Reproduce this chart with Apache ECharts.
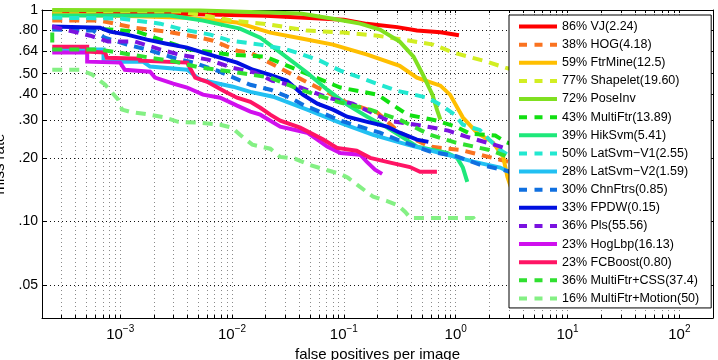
<!DOCTYPE html>
<html><head><meta charset="utf-8">
<script src="https://cdn.jsdelivr.net/npm/echarts@6/dist/echarts.min.js"></script>
<style>html,body{margin:0;padding:0;background:#fff}#c{width:718px;height:360px}</style>
</head><body><div id="c"></div>
<script>
// ---- data: [false positives per image, miss rate] ----
const vj = [[2.47e-4,0.965],[0.003,0.96],[0.02,0.94],[0.1,0.90],[0.16,0.86],[0.3,0.83],[0.45,0.80],[0.73,0.785],[1.07,0.76]];
const hog = [[2.47e-4,0.891],[6.6e-4,0.891],[1.31e-3,0.826],[2.63e-3,0.79],[5.2e-3,0.74],[6.8e-3,0.716],[0.0111,0.642],[0.0146,0.629],[0.039,0.479],[0.107,0.365],[0.2,0.327],[0.316,0.263],[0.59,0.226],[1.1,0.218],[1.42,0.211],[2.5,0.196],[3.8,0.186]];
const ftrMine = [[2.47e-4,0.951],[1e-3,0.94],[3.97e-3,0.92],[0.0111,0.872],[0.022,0.782],[0.043,0.732],[0.08,0.686],[0.162,0.615],[0.316,0.545],[0.45,0.479],[0.73,0.439],[0.89,0.398],[1.16,0.31],[1.55,0.263],[2.16,0.236],[2.66,0.202],[2.9,0.163],[3.4,0.127]];
const shapelet = [[2.47e-4,0.993],[3.4e-3,0.983],[6.4e-3,0.931],[0.0102,0.891],[0.022,0.853],[0.047,0.799],[0.099,0.782],[0.2,0.756],[0.39,0.716],[0.63,0.686],[0.95,0.629],[1.77,0.576],[2.78,0.534],[3.8,0.51]];
const poseInv = [[2.47e-4,0.999],[5.2e-3,0.995],[0.041,0.962],[0.08,0.91],[0.14,0.862],[0.21,0.808],[0.316,0.709],[0.42,0.602],[0.51,0.494],[0.62,0.398],[0.68,0.338],[0.73,0.303]];
const multiFtr = [[2.47e-4,0.825],[8.1e-4,0.808],[1.42e-3,0.79],[4.2e-3,0.65],[9.7e-3,0.615],[0.0198,0.602],[0.038,0.522],[0.093,0.43],[0.2,0.398],[0.37,0.32],[0.68,0.30],[1.0,0.281],[1.35,0.26],[2.26,0.255],[2.8,0.238],[3.9,0.223]];
const hikSvm = [[2.47e-4,0.941],[2.8e-3,0.941],[5.5e-3,0.891],[0.0118,0.817],[0.0179,0.74],[0.0287,0.615],[0.047,0.505],[0.071,0.42],[0.107,0.357],[0.162,0.313],[0.244,0.278],[0.454,0.226],[0.84,0.211],[1.03,0.20],[1.16,0.18],[1.27,0.154]];
const latSvmV1 = [[2.47e-4,0.92],[1e-3,0.911],[2.28e-3,0.862],[3.66e-3,0.808],[6.4e-3,0.765],[9.6e-3,0.716],[0.0179,0.686],[0.031,0.65],[0.043,0.615],[0.061,0.576],[0.093,0.517],[0.14,0.479],[0.21,0.443],[0.30,0.415],[0.56,0.385],[0.73,0.357],[0.98,0.32],[1.16,0.287],[1.64,0.271],[2.0,0.244],[2.5,0.218],[3.4,0.196]];
const latSvmV2 = [[2.47e-4,0.65],[7.1e-4,0.65],[7.1e-4,0.57],[1.6e-3,0.57],[1.85e-3,0.54],[3.97e-3,0.522],[5.2e-3,0.468],[0.0102,0.434],[0.0146,0.41],[0.0233,0.389],[0.047,0.338],[0.093,0.293],[0.183,0.257],[0.37,0.231],[0.73,0.211],[1.44,0.192],[2.5,0.18],[3.4,0.166]];
const chnFtrs = [[2.47e-4,0.808],[5.7e-4,0.799],[7.3e-4,0.74],[1.15e-3,0.686],[1.74e-3,0.65],[2.98e-3,0.595],[4.5e-3,0.564],[7.4e-3,0.517],[0.0146,0.443],[0.022,0.42],[0.0332,0.385],[0.043,0.357],[0.093,0.30],[0.14,0.281],[0.21,0.263],[0.30,0.244],[0.59,0.214],[1.0,0.204],[1.64,0.186],[3.1,0.172]];
const fpdw = [[2.47e-4,0.835],[6.6e-4,0.825],[8.1e-4,0.79],[1.15e-3,0.765],[1.74e-3,0.724],[2.6e-3,0.693],[3.97e-3,0.664],[5.5e-3,0.629],[7.8e-3,0.595],[0.0111,0.564],[0.0154,0.522],[0.022,0.494],[0.031,0.463],[0.043,0.398],[0.058,0.361],[0.08,0.338],[0.107,0.313],[0.162,0.296],[0.244,0.281],[0.316,0.263],[0.45,0.244],[0.57,0.238]];
const pls = [[2.47e-4,0.835],[5.4e-4,0.756],[7.8e-4,0.709],[1.36e-3,0.709],[2.3e-3,0.65],[3.4e-3,0.615],[6.1e-3,0.583],[0.01,0.534],[0.016,0.506],[0.023,0.463],[0.041,0.43],[0.072,0.385],[0.12,0.361],[0.25,0.30],[0.5,0.284],[0.86,0.269],[1.24,0.252],[2.4,0.228],[3.4,0.214]];
const hogLbp = [[2.47e-4,0.629],[5.07e-4,0.629],[5.07e-4,0.57],[1e-3,0.564],[1.1e-3,0.522],[1.85e-3,0.511],[2.05e-3,0.479],[2.98e-3,0.449],[3.97e-3,0.43],[5.5e-3,0.398],[7.84e-3,0.385],[0.0111,0.353],[0.0146,0.331],[0.0179,0.32],[0.027,0.281],[0.047,0.263],[0.058,0.244],[0.071,0.226],[0.093,0.211],[0.14,0.207],[0.16,0.192],[0.19,0.176],[0.22,0.168]];
const fcBoost = [[2.47e-4,0.671],[5.07e-4,0.671],[5.07e-4,0.636],[7.34e-4,0.629],[7.6e-4,0.595],[1.51e-3,0.589],[1.51e-3,0.576],[3.97e-3,0.564],[4.69e-3,0.479],[6.0e-3,0.458],[8.7e-3,0.411],[0.0111,0.385],[0.0146,0.368],[0.0179,0.345],[0.022,0.32],[0.027,0.30],[0.0407,0.278],[0.0655,0.244],[0.087,0.223],[0.13,0.216],[0.172,0.20],[0.26,0.19],[0.39,0.181],[0.48,0.172],[0.68,0.172]];
const multiFtrCss = [[2.47e-4,0.782],[2.47e-4,0.65],[6.6e-4,0.65],[1.85e-3,0.595],[3.1e-3,0.57],[5.2e-3,0.534],[0.01,0.511],[0.022,0.479],[0.041,0.42],[0.093,0.365],[0.172,0.338],[0.316,0.303],[0.59,0.257],[1.0,0.236],[2.0,0.218],[3.1,0.20]];
const multiFtrMotion = [[2.47e-4,0.522],[4.39e-4,0.522],[5.62e-4,0.495],[7.34e-4,0.443],[9.6e-4,0.377],[1.04e-3,0.338],[1.23e-3,0.33],[1.85e-3,0.32],[2.53e-3,0.31],[3.3e-3,0.296],[5.2e-3,0.293],[7.84e-3,0.287],[0.01,0.278],[0.0118,0.257],[0.0152,0.231],[0.022,0.221],[0.027,0.202],[0.0367,0.198],[0.05,0.185],[0.068,0.176],[0.093,0.168],[0.109,0.161],[0.132,0.149],[0.183,0.131],[0.244,0.125],[0.307,0.119],[0.354,0.111],[0.393,0.104],[1.44,0.104],[1.59,0.0964]];

const seriesNames = ['86% VJ(2.24)','38% HOG(4.18)','59% FtrMine(12.5)','77% Shapelet(19.60)','72% PoseInv','43% MultiFtr(13.89)','39% HikSvm(5.41)','50% LatSvm\u2212V1(2.55)','28% LatSvm\u2212V2(1.59)','30% ChnFtrs(0.85)','33% FPDW(0.15)','36% Pls(55.56)','23% HogLbp(16.13)','23% FCBoost(0.80)','36% MultiFtr+CSS(37.4)','16% MultiFtr+Motion(50)'];
const seriesValues = [vj,hog,ftrMine,shapelet,poseInv,multiFtr,hikSvm,latSvmV1,latSvmV2,chnFtrs,fpdw,pls,hogLbp,fcBoost,multiFtrCss,multiFtrMotion];

const xLabelTicks = [1e-3,1e-2,1e-1,1,10,100];
const yTickValues = [0.05,0.1,0.2,0.3,0.4,0.5,0.64,0.8,1];
const yTickLabels = ['.05','.10','.20','.30','.40','.50','.64','.80','1'];

// ---- styles ----
const colors = ['#ff0000','#fa7320','#ffbf00','#d2ee22','#80e020','#12e012','#1ee87a','#22e8d0','#22c0f2','#1070e0','#0010e0','#7a12e0','#d010ee','#ff1464','#30e030','#84f084'];
const dashed = [false,true,false,true,false,true,false,true,false,true,false,true,false,false,true,true];
const XMIN = 2e-4, XMAX = 200, YMIN = 0.035, YMAX = 1;
const FONT = 'Liberation Sans, Arial, Helvetica, sans-serif';

const xGrid = [];
for (let e = -4; e <= 2; e++) for (let k = 1; k <= 9; k++) {
  const v = +(k * Math.pow(10, e)).toPrecision(3);
  if (v > XMIN * 1.01 && v < XMAX * 0.99) xGrid.push(v);
}
const minus = '\u2212';
function xFmt(v) {
  const e = Math.round(Math.log10(v));
  return '{b|10}{s|' + (e < 0 ? minus + (-e) : e) + '}';
}
function yFmt(v) {
  let best = 0;
  for (let i = 0; i < yTickValues.length; i++) if (Math.abs(yTickValues[i] - v) < Math.abs(yTickValues[best] - v)) best = i;
  return yTickLabels[best];
}

const chart = echarts.init(document.getElementById('c'), null, {renderer: 'canvas'});
chart.setOption({
  animation: false,
  backgroundColor: '#fff',
  textStyle: {fontFamily: FONT},
  grid: {left: 42, right: 5, top: 10, bottom: 42, containLabel: false, outerBoundsMode: 'none'},
  xAxis: [{
    type: 'log', logBase: 10, min: XMIN, max: XMAX,
    name: 'false positives per image', nameLocation: 'middle', nameGap: 27,
    nameTextStyle: {fontSize: 15, color: '#000', fontFamily: FONT},
    axisLine: {show: true, lineStyle: {color: '#000', width: 1}},
    axisTick: {show: true, inside: true, length: 3, customValues: xGrid, lineStyle: {color: '#000'}},
    axisLabel: {customValues: xLabelTicks, formatter: xFmt, margin: 6, color: '#000',
      rich: {b: {fontSize: 15, fontFamily: FONT, color: '#000', lineHeight: 18, verticalAlign: 'bottom'},
             s: {fontSize: 10, fontFamily: FONT, color: '#000', lineHeight: 18, verticalAlign: 'top'}}},
    splitLine: {show: true, lineStyle: {color: '#8a8a8a', width: 1, type: [1, 3]}},
    minorTick: {show: false}
  }, {
    type: 'log', logBase: 10, min: XMIN, max: XMAX, position: 'top',
    axisLine: {show: true, lineStyle: {color: '#000', width: 1}},
    axisTick: {show: true, inside: true, length: 3, customValues: xGrid, lineStyle: {color: '#000'}},
    axisLabel: {show: false}, splitLine: {show: false}
  }],
  yAxis: [{
    type: 'log', logBase: 10, min: YMIN, max: YMAX,
    name: 'miss rate', nameLocation: 'middle', nameGap: 31, nameRotate: 90,
    nameTextStyle: {fontSize: 15, color: '#000', fontFamily: FONT},
    axisLine: {show: true, lineStyle: {color: '#000', width: 1}},
    axisTick: {show: true, inside: true, length: 5, customValues: yTickValues, lineStyle: {color: '#000'}},
    axisLabel: {customValues: yTickValues, formatter: yFmt, margin: 4, fontSize: 14, color: '#000', fontFamily: FONT},
    splitLine: {show: true, lineStyle: {color: '#111', width: 1, type: [1, 3]}}
  }, {
    type: 'log', logBase: 10, min: YMIN, max: YMAX, position: 'right',
    axisLine: {show: true, lineStyle: {color: '#000', width: 1}},
    axisTick: {show: true, inside: true, length: 5, customValues: yTickValues, lineStyle: {color: '#000'}},
    axisLabel: {show: false}, splitLine: {show: false}
  }],
  legend: {
    orient: 'vertical', left: 509, top: 15,
    backgroundColor: '#fff', borderColor: '#000', borderWidth: 1,
    padding: [5, 12, 3, 8],
    itemWidth: 38, itemHeight: 14, itemGap: 5.13,
    textStyle: {fontSize: 12.5, color: '#000', fontFamily: FONT},
    lineStyle: {width: 4},
    itemStyle: {opacity: 0, borderWidth: 0},
    data: seriesNames.map((n, i) => dashed[i]
      ? {name: n, lineStyle: {width: 4, type: [8, 7.5]}}
      : {name: n})
  },
  series: seriesValues.map((d, i) => ({
    name: seriesNames[i], type: 'line', data: d, xAxisIndex: 0, yAxisIndex: 0,
    showSymbol: false, symbol: 'none', clip: true,
    lineStyle: {color: colors[i], width: 4, type: dashed[i] ? [10, 7] : 'solid', cap: 'butt', join: 'miter'},
    itemStyle: {color: colors[i]},
    emphasis: {disabled: true}
  }))
});
</script></body></html>
